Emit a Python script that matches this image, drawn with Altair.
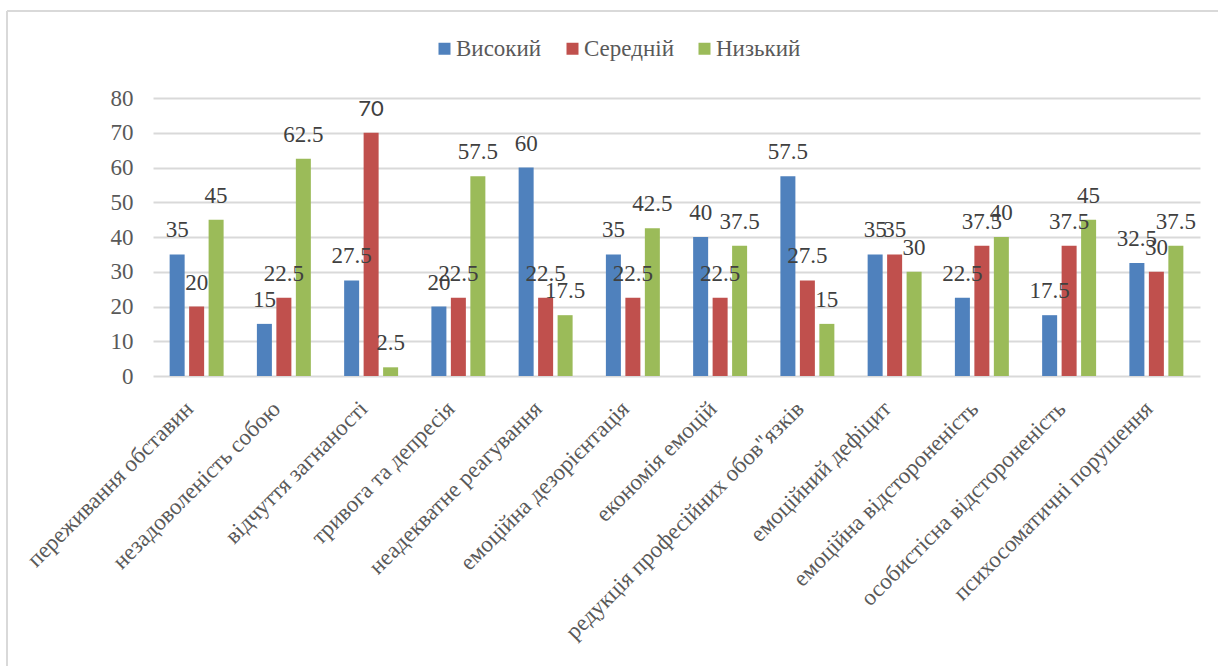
import altair as alt
import pandas as pd

# Burnout-syndrome symptom scales and the share (%) of respondents at each level
categories = [
    "переживання обставин",
    "незадоволеність собою",
    "відчуття загнаності",
    "тривога та депресія",
    "неадекватне реагування",
    "емоційна дезорієнтація",
    "економія емоцій",
    "редукція професійних обов\"язків",
    "емоційний дефіцит",
    "емоційна відстороненість",
    "особистісна відстороненість",
    "психосоматичні порушення",
]
series = ["Високий", "Середній", "Низький"]
high = [35, 15, 27.5, 20, 60, 35, 40, 57.5, 35, 22.5, 17.5, 32.5]
mid = [20, 22.5, 70, 22.5, 22.5, 22.5, 22.5, 27.5, 35, 37.5, 37.5, 30]
low = [45, 62.5, 2.5, 57.5, 17.5, 42.5, 37.5, 15, 30, 40, 45, 37.5]
colors = ["#4F81BD", "#C0504D", "#9BBB59"]
y_ticks = [0, 10, 20, 30, 40, 50, 60, 70, 80]

rows = []
for i, cat in enumerate(categories):
    for name, vals in zip(series, [high, mid, low]):
        rows.append({
            "category": cat,
            "series": name,
            "value": vals[i],
            "label": f"{vals[i]:g}",
            # one label in the source was typeset in a sans face
            "sans": cat == "відчуття загнаності" and name == "Середній",
        })
df = pd.DataFrame(rows)

SERIF = "Liberation Serif"
TEXT_GRAY = "#595959"
W, H = 1047, 278

x_enc = alt.X(
    "category:N",
    sort=categories,
    title=None,
    scale=alt.Scale(paddingInner=0.33, paddingOuter=0.165),
    axis=alt.Axis(
        labelAngle=-45,
        labelFont=SERIF,
        labelFontSize=23,
        labelColor=TEXT_GRAY,
        labelPadding=21,
        labelOffset=-15,
        labelLimit=400,
        ticks=False,
        domain=False,
        grid=False,
    ),
)
xo_enc = alt.XOffset(
    "series:N", sort=series, scale=alt.Scale(paddingInner=0.23, paddingOuter=0.115)
)
y_enc = alt.Y(
    "value:Q",
    title=None,
    scale=alt.Scale(domain=[0, 80], nice=False),
    axis=alt.Axis(
        values=y_ticks,
        labelFont=SERIF,
        labelFontSize=23,
        labelColor=TEXT_GRAY,
        labelPadding=20,
        ticks=False,
        domain=False,
        grid=True,
        gridColor="#D9D9D9",
        gridWidth=2,
    ),
)
color_enc = alt.Color(
    "series:N",
    sort=series,
    scale=alt.Scale(domain=series, range=colors),
    legend=alt.Legend(
        title=None,
        orient="none",
        direction="horizontal",
        legendX=280,
        legendY=-61,
        symbolType="square",
        symbolSize=144,
        symbolStrokeWidth=0,
        labelFont=SERIF,
        labelFontSize=23,
        labelColor=TEXT_GRAY,
        labelOffset=0,
        columnPadding=19,
    ),
)

base = alt.Chart(df)

bars = base.mark_bar().encode(x=x_enc, xOffset=xo_enc, y=y_enc, color=color_enc)

labels_serif = (
    base.transform_filter("!datum.sans")
    .mark_text(baseline="alphabetic", dy=-17, font=SERIF, fontSize=23, color="#404040")
    .encode(x=x_enc, xOffset=xo_enc, y=y_enc, text="label:N")
)
labels_sans = (
    base.transform_filter("datum.sans")
    .mark_text(baseline="alphabetic", dy=-17, font="Lato", fontSize=22, color="#404040")
    .encode(x=x_enc, xOffset=xo_enc, y=y_enc, text="label:N")
)

# light frame around the whole figure
frame_src = alt.Data(values=[{}])
frame_left = alt.Chart(frame_src).mark_rule(color="#D9D9D9", strokeWidth=2).encode(
    x=alt.value(-146), y=alt.value(-87), y2=alt.value(600)
)
frame_top = alt.Chart(frame_src).mark_rule(color="#D9D9D9", strokeWidth=2).encode(
    x=alt.value(-146), x2=alt.value(1100), y=alt.value(-87)
)

chart = (
    alt.layer(frame_left, frame_top, bars, labels_serif, labels_sans)
    .properties(
        width=W,
        height=H,
        autosize=alt.AutoSizeParams(type="none"),
        padding={"left": 153, "top": 98, "right": 18, "bottom": 290},
        background="white",
    )
    .configure_view(stroke=None)
)

chart.save("out.html", embed_options={"renderer": "svg", "actions": False})
